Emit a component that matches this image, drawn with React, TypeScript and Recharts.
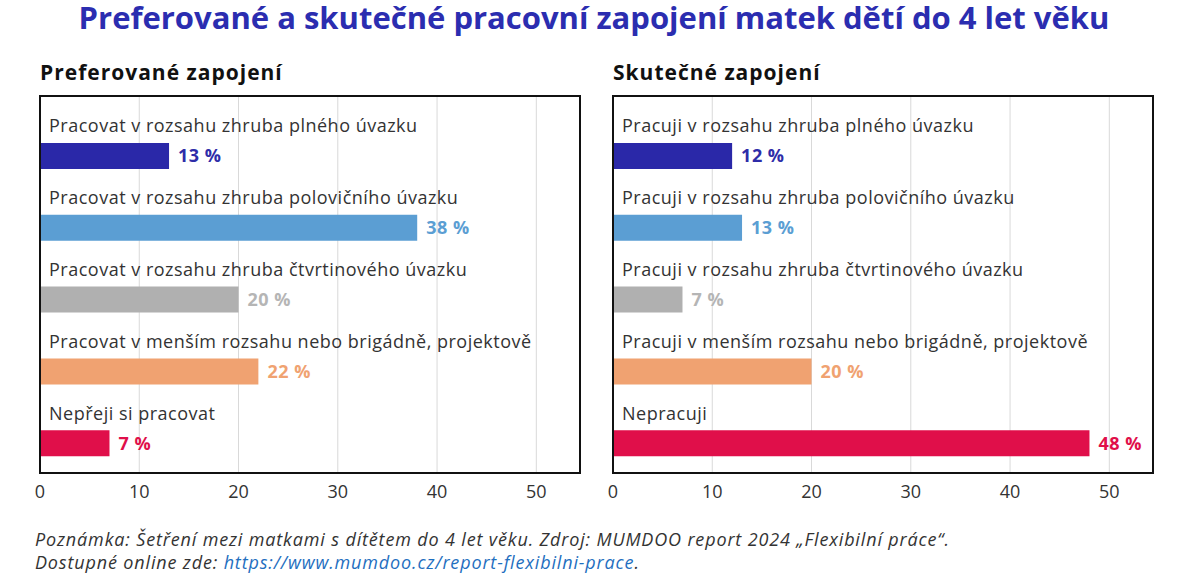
import React from 'react';
import { BarChart, Bar, XAxis, YAxis, CartesianGrid, Cell, LabelList } from 'recharts';

// Preferované zapojení (levý panel)
const preferLabels = [
  'Pracovat v rozsahu zhruba plného úvazku',
  'Pracovat v rozsahu zhruba polovičního úvazku',
  'Pracovat v rozsahu zhruba čtvrtinového úvazku',
  'Pracovat v menším rozsahu nebo brigádně, projektově',
  'Nepřeji si pracovat',
];
const preferValues = [13, 38, 20, 22, 7];

// Skutečné zapojení (pravý panel)
const actualLabels = [
  'Pracuji v rozsahu zhruba plného úvazku',
  'Pracuji v rozsahu zhruba polovičního úvazku',
  'Pracuji v rozsahu zhruba čtvrtinového úvazku',
  'Pracuji v menším rozsahu nebo brigádně, projektově',
  'Nepracuji',
];
const actualValues = [12, 13, 7, 20, 48];

const barColors = ['#2a28a8', '#5b9ed3', '#b0b0b0', '#f0a271', '#e00f4a'];
const labelColors = ['#2e2ca8', '#5b9ed3', '#b5b5b5', '#f0a271', '#e00f4a'];
const xTicks = [0, 10, 20, 30, 40, 50];

const FONT = '"Open Sans", sans-serif';
const CHART_W = 600;
const CHART_H = 520;
const MARGIN = { top: 96, right: 20, bottom: 17, left: 40 };

const valueLabel = (props: any) => {
  const { x, y, width, height, value, index } = props;
  return (
    <text
      x={x + width + 9}
      y={y + height / 2}
      dy="0.36em"
      fill={labelColors[index]}
      fontSize={18}
      fontWeight={700}
      letterSpacing={0.5}
      fontFamily={FONT}
    >
      {`${value} %`}
    </text>
  );
};

const categoryLabel = (props: any) => {
  const { x, y, height, value } = props;
  return (
    <text
      x={x + 9}
      y={y + height / 2}
      dy="0.36em"
      fill="#333"
      fontSize={18}
      letterSpacing={0.5}
      fontFamily={FONT}
    >
      {value}
    </text>
  );
};

const Panel: React.FC<{ title: string; labels: string[]; values: number[]; left: number }> = ({
  title,
  labels,
  values,
  left,
}) => {
  // "row" je horní (neviditelný) pruh, který nese text kategorie
  const data = labels.map((label, i) => ({ label, value: values[i], row: values[i] }));
  return (
    <div style={{ position: 'absolute', left, top: 0, width: CHART_W, height: CHART_H }}>
      <div
        style={{
          position: 'absolute',
          left: MARGIN.left,
          top: 58,
          fontFamily: FONT,
          fontWeight: 700,
          fontSize: 21,
          letterSpacing: 1,
          color: '#111',
          whiteSpace: 'nowrap',
        }}
      >
        {title}
      </div>
      <BarChart
        width={CHART_W}
        height={CHART_H}
        data={data}
        layout="vertical"
        margin={MARGIN}
        barSize={26}
        barGap={4}
      >
        <CartesianGrid horizontal={false} stroke="#d9d9d9" strokeWidth={1} />
        <XAxis
          type="number"
          domain={[0, 54.4]}
          ticks={xTicks}
          axisLine={false}
          tickLine={false}
          height={30}
          tickMargin={6}
          tick={{ fontSize: 18, fill: '#333', fontFamily: FONT }}
        />
        <YAxis type="category" dataKey="label" hide width={0} padding={{ top: 9, bottom: 9 }} />
        <Bar dataKey="row" fill="transparent" isAnimationActive={false}>
          <LabelList dataKey="label" content={categoryLabel} />
        </Bar>
        <Bar dataKey="value" isAnimationActive={false}>
          {data.map((_, i) => (
            <Cell key={i} fill={barColors[i]} />
          ))}
          <LabelList dataKey="value" content={valueLabel} />
        </Bar>
      </BarChart>
      <div
        style={{
          position: 'absolute',
          left: MARGIN.left - 1,
          top: MARGIN.top - 1,
          width: CHART_W - MARGIN.left - MARGIN.right + 2,
          height: CHART_H - MARGIN.top - MARGIN.bottom - 30 + 2,
          border: '2.5px solid #111',
          boxSizing: 'border-box',
          pointerEvents: 'none',
        }}
      />
    </div>
  );
};

export default function App() {
  return (
    <div
      style={{
        position: 'absolute',
        left: 0,
        top: 0,
        width: 1200,
        height: 578,
        background: '#fff',
        overflow: 'hidden',
        fontFamily: FONT,
      }}
    >
      <div
        style={{
          position: 'absolute',
          left: 0,
          width: 1188,
          top: -1,
          lineHeight: '36px',
          textAlign: 'center',
          fontWeight: 700,
          fontSize: 31,
          color: '#2b2db0',
          whiteSpace: 'nowrap',
        }}
      >
        Preferované a skutečné pracovní zapojení matek dětí do 4 let věku
      </div>
      <Panel title="Preferované zapojení" labels={preferLabels} values={preferValues} left={0} />
      <Panel title="Skutečné zapojení" labels={actualLabels} values={actualValues} left={573} />
      <div
        style={{
          position: 'absolute',
          left: 35,
          top: 528,
          fontStyle: 'italic',
          fontSize: 18,
          letterSpacing: 0.85,
          lineHeight: '23px',
          color: '#333',
          whiteSpace: 'nowrap',
        }}
      >
        <div>Poznámka: Šetření mezi matkami s dítětem do 4 let věku. Zdroj: MUMDOO report 2024 „Flexibilní práce“.</div>
        <div>
          Dostupné online zde: <span style={{ color: '#1f6fc0' }}>https://www.mumdoo.cz/report-flexibilni-prace</span>.
        </div>
      </div>
    </div>
  );
}
